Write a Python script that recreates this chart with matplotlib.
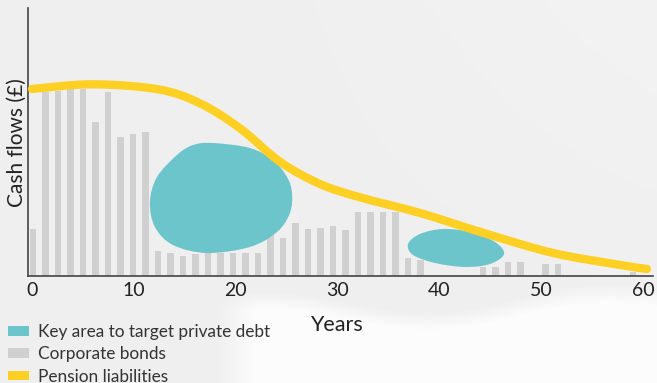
import numpy as np
import matplotlib
matplotlib.use("Agg")
import matplotlib.pyplot as plt
from matplotlib.path import Path
from matplotlib.patches import PathPatch, Patch

# ---------------- data ----------------
bar_heights = [47, 184, 185, 187, 187, 154, 184, 139, 142, 144,
               25, 23, 20, 22, 23, 23, 23, 23, 23, 41,
               38, 53, 47, 48, 50, 46, 64, 64, 64, 64,
               18, 16, 0, 0, 0, 0, 9, 9, 14, 14,
               0, 12, 12, 0, 0, 0, 0, 0, 4]
bar_years = np.arange(len(bar_heights)) * 1.228 + 0.1

liab_years = [0, 5.89, 12.38, 16.5, 20.43, 24.36, 28.29, 32.22, 38.11,
              44.7, 51.2, 57.8, 60.4]
liab_values = [187, 191.7, 186.7, 172.7, 147.7, 114.3, 92, 78.7, 63,
               42, 23, 11, 7]

# outlines of the highlighted "key areas" (years, value)
blob1_x = [17.78, 21.41, 23.67, 25.05, 25.54, 25.34, 24.07, 21.41, 17.19, 13.85, 12.08, 11.59, 12.28, 14.24, 15.82]
blob1_y = [133, 128, 116, 99, 83, 63, 44, 29, 23, 31, 49, 74, 99, 121, 131]
blob2_x = [36.94, 38.11, 40.37, 43.03, 45.48, 46.37, 44.99, 42.53, 39.59, 37.43]
blob2_y = [32, 42, 47, 44, 34, 22, 12, 9, 13, 21]

xticks = [0, 10, 20, 30, 40, 50, 60]
legend_labels = ["Key area to target private debt", "Corporate bonds", "Pension liabilities"]

# ---------------- style ----------------
BG = "#EFEFEF"
GREY = "#D0D0D0"
BLUE = "#6DC5CC"
YELLOW = "#FFD024"
TXT = "#222222"
plt.rcParams['font.family'] = ['Lato', 'DejaVu Sans']


def smooth_path(xs, ys, closed):
    pts = np.column_stack([xs, ys]).astype(float)
    n = len(pts)
    verts = [pts[0]]
    codes = [Path.MOVETO]
    rng = range(n) if closed else range(n - 1)
    for i in rng:
        if closed:
            p0, p1, p2, p3 = pts[(i - 1) % n], pts[i], pts[(i + 1) % n], pts[(i + 2) % n]
        else:
            p0 = pts[max(i - 1, 0)]
            p1 = pts[i]
            p2 = pts[i + 1]
            p3 = pts[min(i + 2, n - 1)]
        c1 = p1 + (p2 - p0) / 6.0
        c2 = p2 - (p3 - p1) / 6.0
        verts += [c1, c2, p2]
        codes += [Path.CURVE4] * 3
    return Path(verts, codes)


W, H = 657, 383
fig = plt.figure(figsize=(W / 100, H / 100), dpi=100, facecolor=BG)

# soft background: light grey with a whiter wash in the lower right
bg_ax = fig.add_axes([0, 0, 1, 1], zorder=-10)
yy, xx = np.mgrid[0:H, 0:W]
edge = 300 + 12 * np.sin(xx / 55.0) - 0.02 * (xx - 400)
t = np.clip((yy - edge) / 18.0, 0, 1) * np.clip((xx - 215) / 40.0, 0, 1)
base = 239 + 4 * np.clip((xx - 200) / 457.0, 0, 1) * np.clip(1 - yy / 383.0, 0, 1)
img = base * (1 - t) + 252 * t
bg_ax.imshow(np.dstack([img, img, img]) / 255.0, aspect='auto', extent=(0, W, H, 0))
bg_ax.set_axis_off()

ax = fig.add_axes([28 / W, (H - 276) / H, (653 - 28) / W, (276 - 8) / H])
ax.set_facecolor("none")
ax.set_xlim(-0.39, 61.0)
ax.set_ylim(0, 268)

ax.bar(bar_years, bar_heights, width=0.64, color=GREY, zorder=2)

for bx, by in [(blob1_x, blob1_y), (blob2_x, blob2_y)]:
    ax.add_patch(PathPatch(smooth_path(bx, by, True), facecolor=BLUE,
                           edgecolor="none", zorder=3))

ax.add_patch(PathPatch(smooth_path(liab_years, liab_values, False), facecolor='none',
                       edgecolor=YELLOW, lw=6.0, capstyle='round', joinstyle='round',
                       zorder=4, clip_on=False))

for s in ["top", "right"]:
    ax.spines[s].set_visible(False)
for s in ["left", "bottom"]:
    ax.spines[s].set_color("#444444")
    ax.spines[s].set_linewidth(1.2)
ax.set_yticks([])
ax.set_xticks(xticks)
ax.set_xticklabels([str(t) for t in xticks])
ax.tick_params(axis='x', length=0, pad=4, labelsize=14, labelcolor=TXT)

fig.text(336 / W, 1 - 325 / H, "Years", ha='center', va='center', fontsize=15.5, color=TXT)
fig.text(17 / W, 1 - 143 / H, "Cash flows (£)", ha='center', va='center',
         rotation=90, fontsize=15, color=TXT)

handles = [Patch(facecolor=c, edgecolor='none') for c in [BLUE, GREY, YELLOW]]
leg = fig.legend(handles, legend_labels, loc='lower left',
                 bbox_to_anchor=(0.002, -0.022), frameon=False, fontsize=12.4,
                 handlelength=1.2, handleheight=0.5, handletextpad=0.55,
                 labelspacing=0.36, borderaxespad=0.0, labelcolor="#333333")

fig.savefig("out.png", dpi=100, facecolor=BG)
